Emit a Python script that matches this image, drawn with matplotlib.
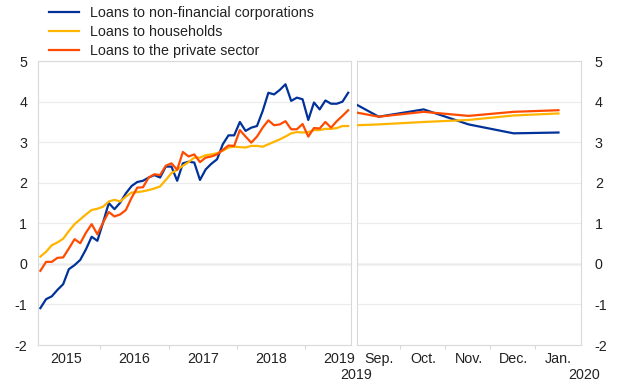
import matplotlib.pyplot as plt
import numpy as np

# monthly data, left panel (Feb 2015 - Aug 2019)
nfc = [-1.09, -0.87, -0.80, -0.64, -0.50, -0.13, -0.03, 0.10, 0.36, 0.67,
       0.57, 1.02, 1.50, 1.35, 1.51, 1.74, 1.92, 2.02, 2.05, 2.13,
       2.19, 2.13, 2.40, 2.40, 2.05, 2.48, 2.52, 2.50, 2.07, 2.33,
       2.47, 2.58, 2.95, 3.17, 3.17, 3.50, 3.28, 3.36, 3.40, 3.77,
       4.22, 4.18, 4.29, 4.43, 4.02, 4.10, 4.06, 3.55, 3.98, 3.81,
       4.03, 3.95, 3.95, 4.00, 4.22]
households = [0.18, 0.30, 0.46, 0.53, 0.62, 0.81, 0.98, 1.10, 1.22, 1.33,
              1.36, 1.41, 1.54, 1.58, 1.54, 1.66, 1.76, 1.77, 1.79, 1.82,
              1.86, 1.91, 2.07, 2.24, 2.32, 2.42, 2.51, 2.62, 2.62, 2.68,
              2.70, 2.73, 2.79, 2.87, 2.89, 2.88, 2.87, 2.91, 2.91, 2.89,
              2.95, 3.01, 3.07, 3.14, 3.22, 3.25, 3.24, 3.25, 3.30, 3.30,
              3.33, 3.33, 3.35, 3.40, 3.40]
private = [-0.17, 0.05, 0.05, 0.15, 0.16, 0.38, 0.61, 0.51, 0.77, 0.98,
           0.73, 1.02, 1.28, 1.17, 1.22, 1.33, 1.63, 1.88, 1.89, 2.13,
           2.21, 2.19, 2.42, 2.48, 2.32, 2.76, 2.65, 2.70, 2.51, 2.62,
           2.65, 2.70, 2.81, 2.92, 2.91, 3.30, 3.14, 2.99, 3.14, 3.36,
           3.54, 3.42, 3.44, 3.52, 3.32, 3.32, 3.45, 3.14, 3.35, 3.34,
           3.50, 3.36, 3.52, 3.65, 3.79]
years = ['2015', '2016', '2017', '2018', '2019']

# right panel (first value sits on the left edge, then Sep. - Jan.)
months = ['Sep.', 'Oct.', 'Nov.', 'Dec.', 'Jan.']
nfc_r = [3.92, 3.63, 3.81, 3.44, 3.22, 3.24]
households_r = [3.42, 3.44, 3.50, 3.55, 3.66, 3.71]
private_r = [3.73, 3.63, 3.75, 3.65, 3.75, 3.79]

BLUE = '#003299'
YELLOW = '#FFB400'
RED = '#FF4B00'
FRAME = '#d9d9d9'
GRID = '#ebebeb'
TXT = '#222222'
FS = 10.3

plt.rcParams['font.family'] = ['Liberation Sans', 'DejaVu Sans']
plt.rcParams['font.size'] = FS

fig = plt.figure(figsize=(6.2, 3.87), dpi=100)
ax1 = fig.add_axes([0.0618, 0.1085, 0.5044, 0.7335])
ax2 = fig.add_axes([0.576, 0.1085, 0.361, 0.7335])

# left panel
x_left = 2015 + (np.arange(len(nfc)) + 1.5) / 12
ax1.plot(x_left, nfc, color=BLUE, lw=1.6, label='Loans to non-financial corporations', zorder=3)
ax1.plot(x_left, households, color=YELLOW, lw=1.6, label='Loans to households', zorder=3)
ax1.plot(x_left, private, color=RED, lw=1.6, label='Loans to the private sector', zorder=3)
ax1.set_xlim(2015.095, 2019.667)
ax1.set_xticks([2015.5 + i for i in range(len(years))])
ax1.set_xticklabels(years)
ax1.set_xticks([2016, 2017, 2018, 2019], minor=True)

# right panel
left_edge = -0.48
x_right = [left_edge] + list(range(len(months)))
ax2.plot(x_right, nfc_r, color=BLUE, lw=1.6, zorder=3)
ax2.plot(x_right, households_r, color=YELLOW, lw=1.6, zorder=3)
ax2.plot(x_right, private_r, color=RED, lw=1.6, zorder=3)
ax2.set_xlim(left_edge, 4.5)
ax2.set_xticks(range(len(months)))
ax2.set_xticklabels(months)
ax2.set_xticks([i + 0.48 for i in range(len(months) - 1)], minor=True)

for ax in (ax1, ax2):
    ax.set_ylim(-2, 5)
    ax.set_yticks(range(-2, 6))
    ax.set_yticklabels([str(v) for v in range(-2, 6)])
    for sp in ax.spines.values():
        sp.set_color(FRAME)
        sp.set_linewidth(0.8)
    ax.grid(axis='y', color=GRID, lw=0.8, zorder=0)
    ax.axhline(0, color='#a6a6a6', lw=0.9, zorder=1)
    ax.tick_params(axis='x', which='major', length=0, pad=5, labelsize=FS, colors=TXT)
    ax.tick_params(axis='x', which='minor', length=3, color=FRAME, width=0.8)
    ax.tick_params(axis='y', length=0, pad=8, labelsize=FS, colors=TXT)

ax2.yaxis.tick_right()
ax2.tick_params(axis='y', pad=10)

fig.text(0.574, 0.03, '2019', ha='center', va='center', fontsize=FS, color=TXT)
fig.text(0.942, 0.03, '2020', ha='center', va='center', fontsize=FS, color=TXT)

leg = fig.legend(loc='upper left', bbox_to_anchor=(0.058, 1.018), frameon=False,
                 handlelength=2.1, handletextpad=0.8, labelspacing=0.36, fontsize=FS)
for t in leg.get_texts():
    t.set_color(TXT)

fig.savefig('out.png', dpi=100)
